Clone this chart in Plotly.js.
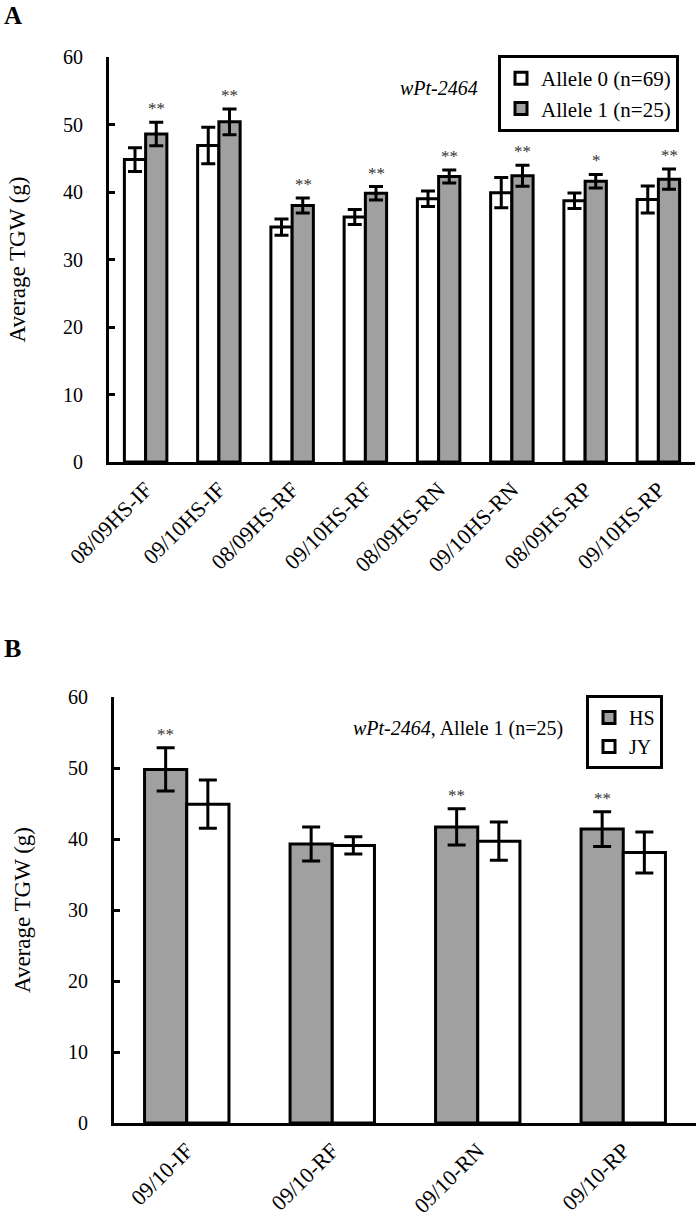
<!DOCTYPE html>
<html><head><meta charset="utf-8">
<script src="https://cdn.plot.ly/plotly-3.0.1.min.js"></script>
<style>body{margin:0;padding:0;background:#fff}#chart{width:699px;height:1218px}</style>
</head><body><div id="chart"></div>
<script>
// Panel A data
const catsA = ['08/09HS-IF','09/10HS-IF','08/09HS-RF','09/10HS-RF','08/09HS-RN','09/10HS-RN','08/09HS-RP','09/10HS-RP'];
const allele0 = [44.8, 46.9, 34.8, 36.3, 39.0, 39.9, 38.7, 38.9];
const allele0Err = [1.75, 2.7, 1.2, 1.1, 1.15, 2.25, 1.15, 2.0];
const allele1 = [48.6, 50.4, 38.0, 39.8, 42.3, 42.4, 41.6, 41.9];
const allele1Err = [1.75, 1.9, 1.1, 1.0, 0.95, 1.55, 1.0, 1.5];
const sigA = ['**','**','**','**','**','**','*','**'];

// Panel B data
const catsB = ['09/10-IF','09/10-RF','09/10-RN','09/10-RP'];
const hs = [49.8, 39.3, 41.7, 41.4];
const hsErr = [3.05, 2.4, 2.55, 2.45];
const jy = [44.9, 39.1, 39.7, 38.1];
const jyErr = [3.4, 1.2, 2.7, 2.9];
const sigB = ['**','','**','**'];

const GRAY = '#a0a0a0';
const FONT = '"Liberation Serif", "Times New Roman", Times, serif';

function barTrace(name, x, y, err, fill, xa, ya, leg, capw) {
  return {
    type: 'bar', name: name, x: x, y: y, xaxis: xa, yaxis: ya, legend: leg,
    marker: {color: fill, line: {color: '#000', width: 3}},
    error_y: {type: 'data', array: err, visible: true, color: '#000', thickness: 3, width: capw},
    hoverinfo: 'skip'
  };
}

const data = [
  barTrace('Allele 0 (n=69)', catsA, allele0, allele0Err, '#ffffff', 'x', 'y', 'legend', 7),
  barTrace('Allele 1 (n=25)', catsA, allele1, allele1Err, GRAY, 'x', 'y', 'legend', 7),
  barTrace('HS', catsB, hs, hsErr, GRAY, 'x2', 'y2', 'legend2', 9),
  barTrace('JY', catsB, jy, jyErr, '#ffffff', 'x2', 'y2', 'legend2', 9)
];

const annotations = [];
sigA.forEach((s, i) => {
  if (!s) return;
  annotations.push({text: s, x: catsA[i], y: allele1[i] + allele1Err[i], xref: 'x', yref: 'y',
    xshift: 11, yshift: 2, yanchor: 'bottom', showarrow: false, font: {size: 17, color: '#333'}});
});
sigB.forEach((s, i) => {
  if (!s) return;
  annotations.push({text: s, x: catsB[i], y: hs[i] + hsErr[i], xref: 'x2', yref: 'y2',
    xshift: -21, yshift: 2, yanchor: 'bottom', showarrow: false, font: {size: 17, color: '#333'}});
});
annotations.push(
  {text: '<b>A</b>', xref: 'paper', yref: 'paper', x: 0.003, y: 1, xanchor: 'left', yanchor: 'top', showarrow: false, font: {size: 25}},
  {text: '<b>B</b>', xref: 'paper', yref: 'paper', x: 0.003, y: 1 - 632/1218, xanchor: 'left', yanchor: 'top', showarrow: false, font: {size: 26}},
  {text: '<i>wPt-2464</i>', xref: 'paper', yref: 'paper', x: 439/699, y: 1 - 88/1218, xanchor: 'center', yanchor: 'middle', showarrow: false, font: {size: 20}},
  {text: '<i>wPt-2464</i>, Allele 1 (n=25)', xref: 'paper', yref: 'paper', x: 458/699, y: 1 - 728/1218, xanchor: 'center', yanchor: 'middle', showarrow: false, font: {size: 20}}
);

function xAxis(domain, anchor) {
  return {domain: domain, anchor: anchor, type: 'category', showline: true, linewidth: 3, linecolor: '#000',
    ticks: '', tickangle: -45, tickfont: {size: 22}, ticklabelstandoff: 3,
    showgrid: false, zeroline: false, fixedrange: true};
}
function yAxis(domain, anchor) {
  return {domain: domain, anchor: anchor, range: [0, 60], dtick: 10, ticks: 'inside', ticklen: 6, tickwidth: 3,
    tickcolor: '#000', showline: true, linewidth: 3, linecolor: '#000', showgrid: false, zeroline: false,
    tickfont: {size: 20}, ticklabelstandoff: 19,
    title: {text: 'Average TGW (g)', font: {size: 23}, standoff: 31}, fixedrange: true};
}

const layout = {
  width: 699, height: 1218, margin: {l: 0, r: 0, t: 0, b: 0},
  paper_bgcolor: '#fff', plot_bgcolor: '#fff',
  font: {family: FONT, color: '#000', size: 20},
  barmode: 'group', bargap: 0.42, bargroupgap: 0,
  xaxis: xAxis([109/699, 695/699], 'y'),
  yaxis: yAxis([1 - 462/1218, 1 - 57/1218], 'x'),
  xaxis2: xAxis([114/699, 696/699], 'y2'),
  yaxis2: yAxis([1 - 1123/1218, 1 - 697/1218], 'x2'),
  legend: {x: 498/699, y: 1 - 55/1218, xanchor: 'left', yanchor: 'top', bordercolor: '#000', borderwidth: 3,
    bgcolor: '#fff', font: {size: 21}, traceorder: 'normal'},
  legend2: {x: 586/699, y: 1 - 695/1218, xanchor: 'left', yanchor: 'top', bordercolor: '#000', borderwidth: 3,
    bgcolor: '#fff', font: {size: 20}, traceorder: 'normal'},
  annotations: annotations,
  showlegend: true
};

Plotly.newPlot('chart', data, layout, {displayModeBar: false, staticPlot: true});
</script>
</body></html>
